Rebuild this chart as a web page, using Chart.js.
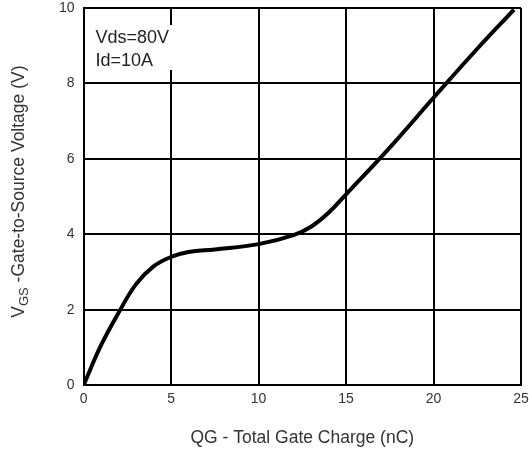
<!DOCTYPE html>
<html>
<head>
<meta charset="utf-8">
<script src="https://cdn.jsdelivr.net/npm/chart.js@4"></script>
<style>
  html, body { margin: 0; padding: 0; background: #fff; }
  #wrap { width: 529px; height: 457px; }
</style>
</head>
<body>
<div id="wrap"><canvas id="qg-chart"></canvas></div>
<script>
// gate charge curve
const gateCharge = [0, 1, 2, 3, 4, 5, 6, 7.5, 10, 12, 13, 14, 15, 17.5, 20, 22.5, 24.6];
const gateVolts  = [0, 1.06, 1.92, 2.68, 3.15, 3.4, 3.53, 3.6, 3.74, 3.98, 4.2, 4.57, 5.06, 6.3, 7.62, 8.92, 9.96];
const xTicks = [0, 5, 10, 15, 20, 25];
const yTicks = [0, 2, 4, 6, 8, 10];
const noteLines = ["Vds=80V", "Id=10A"];

const points = gateCharge.map((q, i) => ({ x: q, y: gateVolts[i] }));
const FONT = "'Liberation Sans', Arial, sans-serif";

// white box with test conditions + y title with subscript
const extras = {
  id: 'extras',
  beforeDatasetsDraw(chart) {
    const c = chart.ctx;
    const area = chart.chartArea;
    c.save();
    c.fillStyle = '#fff';
    c.fillRect(area.left + 5, area.top + 17, 95, 45);
    c.fillStyle = '#222';
    c.font = '18px ' + FONT;
    c.textBaseline = 'middle';
    c.fillText(noteLines[0], area.left + 12, area.top + 30);
    c.fillText(noteLines[1], area.left + 12, area.top + 53);
    c.restore();
  },
  afterDraw(chart) {
    const c = chart.ctx;
    const area = chart.chartArea;
    c.save();
    c.translate(19, (area.top + area.bottom) / 2 - 5);
    c.rotate(-Math.PI / 2);
    c.fillStyle = '#333';
    c.textBaseline = 'middle';
    const big = '17.5px ' + FONT, small = '13px ' + FONT;
    const rest = ' -Gate-to-Source Voltage (V)';
    c.font = big; const wV = c.measureText('V').width; const wR = c.measureText(rest).width;
    c.font = small; const wS = c.measureText('GS').width;
    let px = -(wV + wS + wR) / 2;
    c.font = big; c.fillText('V', px, 0); px += wV;
    c.font = small; c.fillText('GS', px, 5); px += wS;
    c.font = big; c.fillText(rest, px, 0);
    c.restore();
  }
};

new Chart(document.getElementById('qg-chart'), {
  type: 'scatter',
  data: {
    datasets: [{
      data: points,
      showLine: true,
      borderColor: '#000',
      borderWidth: 4,
      pointRadius: 0,
      tension: 0.4
    }]
  },
  options: {
    responsive: true,
    maintainAspectRatio: false,
    animation: false,
    layout: { padding: { left: 50, top: 8, right: 8, bottom: 4 } },
    plugins: { legend: { display: false }, tooltip: { enabled: false } },
    scales: {
      x: {
        type: 'linear', min: 0, max: 25,
        afterBuildTicks: ax => { ax.ticks = xTicks.map(v => ({ value: v })); },
        afterFit: ax => { ax.paddingLeft = 0; ax.paddingRight = 0; },
        grid: { color: '#000', lineWidth: 2, drawTicks: false },
        border: { color: '#000', width: 2 },
        ticks: { color: '#333', font: { family: FONT, size: 14 }, padding: 6 },
        title: { display: true, text: 'QG - Total Gate Charge (nC)', color: '#333', font: { family: FONT, size: 17.5 }, padding: { top: 14 } }
      },
      y: {
        type: 'linear', min: 0, max: 10,
        afterBuildTicks: ax => { ax.ticks = yTicks.map(v => ({ value: v })); },
        afterFit: ax => { ax.paddingTop = 0; ax.paddingBottom = 0; },
        grid: { color: '#000', lineWidth: 2, drawTicks: false },
        border: { color: '#000', width: 2 },
        ticks: { color: '#333', font: { family: FONT, size: 14 }, padding: 9 }
      }
    }
  },
  plugins: [extras]
});
</script>
</body>
</html>
